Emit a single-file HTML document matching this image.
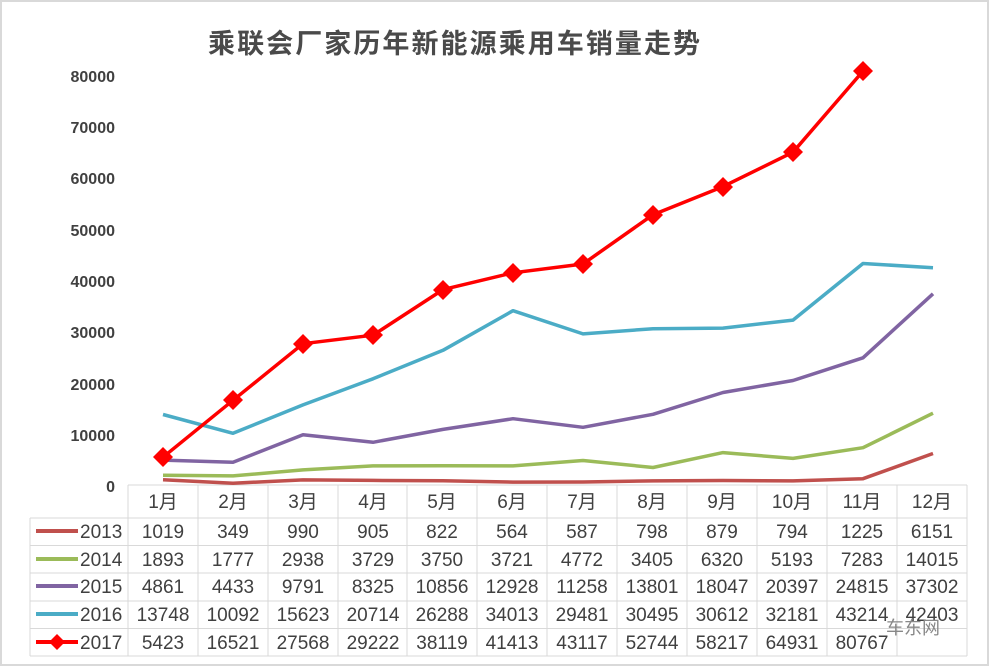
<!DOCTYPE html>
<html><head><meta charset="utf-8"><style>
html,body{margin:0;padding:0;background:#fff}
svg{display:block}
text{font-family:"Liberation Sans","Noto Sans CJK SC",sans-serif;fill:#404040}
</style></head><body>
<svg width="989" height="666" viewBox="0 0 989 666">
<rect x="1" y="1" width="987" height="664" fill="#fff" stroke="#d9d9d9" stroke-width="2"/>
<text x="208" y="53" font-size="27" font-weight="bold" textLength="492" lengthAdjust="spacing" style="fill:#4a4a4a">乘联会厂家历年新能源乘用车销量走势</text>
<g font-size="16" text-anchor="end" font-weight="bold">
<text x="115" y="82">80000</text><text x="115" y="133">70000</text><text x="115" y="184">60000</text><text x="115" y="236">50000</text><text x="115" y="287">40000</text><text x="115" y="338">30000</text><text x="115" y="390">20000</text><text x="115" y="441">10000</text><text x="115" y="492">0</text>
</g>
<g stroke="#d9d9d9" stroke-width="1" fill="none">
<path d="M128 485V656M198 485V656M268 485V656M338 485V656M407 485V656M477 485V656M547 485V656M617 485V656M687 485V656M757 485V656M827 485V656M897 485V656M967 485V656"/>
<path d="M128 485H967M30 518H967M30 545.5H967M30 573H967M30 601H967M30 628.5H967M30 656H967M30 518V656"/>
</g>
<g font-size="19" text-anchor="middle">
<text x="163" y="508">1月</text><text x="233" y="508">2月</text><text x="303" y="508">3月</text><text x="373" y="508">4月</text><text x="442" y="508">5月</text><text x="512" y="508">6月</text><text x="582" y="508">7月</text><text x="652" y="508">8月</text><text x="722" y="508">9月</text><text x="792" y="508">10月</text><text x="862" y="508">11月</text><text x="932" y="508">12月</text>
</g>
<g font-size="19">
<line x1="36" y1="531" x2="78" y2="531" stroke="#c0504d" stroke-width="4"/>
<line x1="36" y1="559" x2="78" y2="559" stroke="#9bbb59" stroke-width="4"/>
<line x1="36" y1="586" x2="78" y2="586" stroke="#8064a2" stroke-width="4"/>
<line x1="36" y1="614" x2="78" y2="614" stroke="#4bacc6" stroke-width="4"/>
<line x1="36" y1="642" x2="78" y2="642" stroke="#ff0000" stroke-width="4"/>
<path d="M57 634L65 642L57 650L49 642Z" fill="#ff0000"/>
<text x="80" y="538">2013</text><text x="80" y="566">2014</text><text x="80" y="593">2015</text><text x="80" y="621">2016</text><text x="80" y="649">2017</text>
</g>
<g font-size="19" text-anchor="middle">
<text y="538"><tspan x="163">1019</tspan><tspan x="233">349</tspan><tspan x="303">990</tspan><tspan x="373">905</tspan><tspan x="442">822</tspan><tspan x="512">564</tspan><tspan x="582">587</tspan><tspan x="652">798</tspan><tspan x="722">879</tspan><tspan x="792">794</tspan><tspan x="862">1225</tspan><tspan x="932">6151</tspan></text>
<text y="566"><tspan x="163">1893</tspan><tspan x="233">1777</tspan><tspan x="303">2938</tspan><tspan x="373">3729</tspan><tspan x="442">3750</tspan><tspan x="512">3721</tspan><tspan x="582">4772</tspan><tspan x="652">3405</tspan><tspan x="722">6320</tspan><tspan x="792">5193</tspan><tspan x="862">7283</tspan><tspan x="932">14015</tspan></text>
<text y="593"><tspan x="163">4861</tspan><tspan x="233">4433</tspan><tspan x="303">9791</tspan><tspan x="373">8325</tspan><tspan x="442">10856</tspan><tspan x="512">12928</tspan><tspan x="582">11258</tspan><tspan x="652">13801</tspan><tspan x="722">18047</tspan><tspan x="792">20397</tspan><tspan x="862">24815</tspan><tspan x="932">37302</tspan></text>
<text y="621"><tspan x="163">13748</tspan><tspan x="233">10092</tspan><tspan x="303">15623</tspan><tspan x="373">20714</tspan><tspan x="442">26288</tspan><tspan x="512">34013</tspan><tspan x="582">29481</tspan><tspan x="652">30495</tspan><tspan x="722">30612</tspan><tspan x="792">32181</tspan><tspan x="862">43214</tspan><tspan x="932">42403</tspan></text>
<text y="649"><tspan x="163">5423</tspan><tspan x="233">16521</tspan><tspan x="303">27568</tspan><tspan x="373">29222</tspan><tspan x="442">38119</tspan><tspan x="512">41413</tspan><tspan x="582">43117</tspan><tspan x="652">52744</tspan><tspan x="722">58217</tspan><tspan x="792">64931</tspan><tspan x="862">80767</tspan></text>
</g>
<text x="913" y="634" font-size="18" text-anchor="middle" style="fill:#888">车东网</text>
<g fill="none" stroke-width="3.5" stroke-linejoin="round">
<polyline stroke="#c0504d" points="163,479.8 233,483.2 303,479.9 373,480.4 443,480.8 513,482.1 583,482 653,480.9 723,480.5 793,480.9 863,478.7 933,453.5"/>
<polyline stroke="#9bbb59" points="163,475.3 233,475.9 303,469.9 373,465.9 443,465.8 513,465.9 583,460.5 653,467.5 723,452.6 793,458.4 863,447.7 933,413.2"/>
<polyline stroke="#8064a2" points="163,460.1 233,462.3 303,434.8 373,442.3 443,429.4 513,418.7 583,427.3 653,414.3 723,392.5 793,380.5 863,357.8 933,293.8"/>
<polyline stroke="#4bacc6" points="163,414.5 233,433.3 303,404.9 373,378.8 443,350.3 513,310.7 583,333.9 653,328.7 723,328.1 793,320.1 863,263.5 933,267.7"/>
<polyline stroke="#ff0000" points="163,457.2 233,400.3 303,343.7 373,335.2 443,289.6 513,272.8 583,264 653,214.7 723,186.6 793,152.2 863,71.1"/>
</g>
<g fill="#ff0000">
<path d="M163 447l10 10-10 10-10-10z"/><path d="M233 390l10 10-10 10-10-10z"/><path d="M303 334l10 10-10 10-10-10z"/><path d="M373 325l10 10-10 10-10-10z"/><path d="M443 280l10 10-10 10-10-10z"/><path d="M513 263l10 10-10 10-10-10z"/><path d="M583 254l10 10-10 10-10-10z"/><path d="M653 205l10 10-10 10-10-10z"/><path d="M723 177l10 10-10 10-10-10z"/><path d="M793 142l10 10-10 10-10-10z"/><path d="M863 61l10 10-10 10-10-10z"/>
</g>
</svg>
</body></html>
